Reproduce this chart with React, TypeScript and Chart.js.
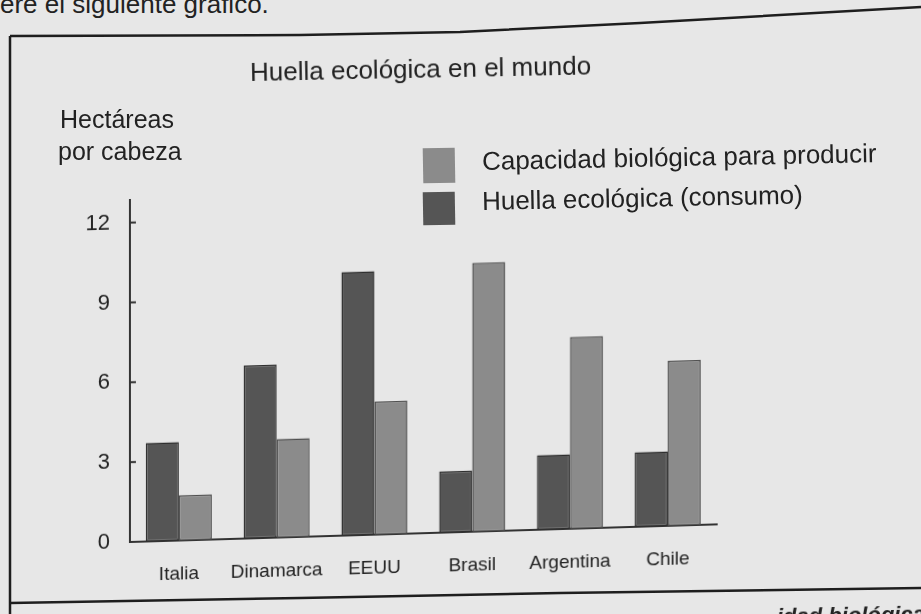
import React, { useEffect, useRef } from "react";
import { Chart, registerables } from "chart.js";

Chart.register(...registerables);

const categories = ["Italia", "Dinamarca", "EEUU", "Brasil", "Argentina", "Chile"];
const huellaEcologica = [3.7, 6.5, 9.9, 2.3, 2.8, 2.8];
const capacidadBiologica = [1.7, 3.7, 5.0, 10.1, 7.2, 6.2];
const yTickValues = [0, 3, 6, 9, 12];
const seriesLabels = ["Huella ecológica (consumo)", "Capacidad biológica para producir"];

const DARK = "#555555";
const LIGHT = "#8b8b8b";
const TEXT = "#222222";
const FONT = "'Liberation Sans', Arial, sans-serif";

const innerTicks = {
  id: "innerTicks",
  afterDraw(chart: any) {
    const y = chart.scales.y;
    const ctx = chart.ctx;
    ctx.save();
    ctx.strokeStyle = "#333";
    ctx.lineWidth = 2;
    y.ticks.forEach((t: any) => {
      const py = y.getPixelForValue(t.value);
      ctx.beginPath();
      ctx.moveTo(y.right, py);
      ctx.lineTo(y.right + 6, py);
      ctx.stroke();
    });
    ctx.restore();
  },
};

export default function App() {
  const ref = useRef<HTMLCanvasElement | null>(null);

  useEffect(() => {
    if (!ref.current) return;
    const chart = new Chart(ref.current, {
      type: "bar",
      data: {
        labels: categories,
        datasets: [
          {
            label: seriesLabels[0],
            data: huellaEcologica,
            backgroundColor: DARK,
            borderColor: "#2e2e2e",
            borderWidth: 1.5,
            borderSkipped: false,
            categoryPercentage: 0.675,
            barPercentage: 1,
          },
          {
            label: seriesLabels[1],
            data: capacidadBiologica,
            backgroundColor: LIGHT,
            borderColor: "#505050",
            borderWidth: 1.5,
            borderSkipped: false,
            categoryPercentage: 0.675,
            barPercentage: 1,
          },
        ],
      },
      options: {
        responsive: false,
        animation: false,
        devicePixelRatio: 1,
        layout: { padding: { top: 200, right: 204, left: 0, bottom: 0 } },
        plugins: {
          legend: { display: false },
          title: { display: false },
          tooltip: { enabled: false },
        },
        scales: {
          x: {
            grid: { display: false, drawTicks: false },
            border: { display: true, color: "#333", width: 2 },
            ticks: {
              color: TEXT,
              padding: 22,
              maxRotation: 0,
              autoSkip: false,
              font: { family: FONT, size: 19 },
            },
            afterFit: (s: any) => {
              s.height = 72;
            },
          },
          y: {
            min: 0,
            max: 12.85,
            grid: { display: false, drawTicks: false },
            border: { display: true, color: "#333", width: 2 },
            ticks: {
              color: TEXT,
              padding: 20,
              stepSize: 3,
              font: { family: FONT, size: 22 },
            },
            afterBuildTicks: (s: any) => {
              s.ticks = yTickValues.map((v) => ({ value: v }));
            },
            afterFit: (s: any) => {
              s.width = 130;
            },
          },
        },
      },
      plugins: [innerTicks],
    });
    return () => chart.destroy();
  }, []);

  const txt = (extra: React.CSSProperties): React.CSSProperties => ({
    position: "absolute",
    fontFamily: FONT,
    color: TEXT,
    whiteSpace: "nowrap",
    lineHeight: "30px",
    transformOrigin: "0 50%",
    ...extra,
  });

  return (
    <div
      style={{
        position: "absolute",
        left: 0,
        top: 0,
        width: 921,
        height: 614,
        overflow: "hidden",
        background: "#e7e7e7",
      }}
    >
      <svg width={921} height={614} style={{ position: "absolute", left: 0, top: 0 }}>
        <polyline
          points="10,36 300,35 460,32 640,23 921,7"
          fill="none"
          stroke="#1e1e1e"
          strokeWidth={2.5}
          strokeLinejoin="round"
        />
        <line x1={10} y1={36} x2={10} y2={614} stroke="#1e1e1e" strokeWidth={2.5} />
        <polyline
          points="10,603 300,598 560,593 921,588"
          fill="none"
          stroke="#1e1e1e"
          strokeWidth={2.5}
          strokeLinejoin="round"
        />
      </svg>

      <div style={txt({ left: 0, top: -11, fontSize: 26 })}>ere el siguiente gráfico.</div>

      <div
        style={{
          position: "absolute",
          left: 0,
          top: 0,
          width: 921,
          height: 614,
          transform: "skewY(-1.72deg)",
          transformOrigin: "130px 0",
        }}
      >
        <canvas ref={ref} width={921} height={614} style={{ width: 921, height: 614, display: "block" }} />
      </div>

      <div style={txt({ left: 250, top: 57, fontSize: 26, transform: "rotate(-1.1deg)" })}>
        Huella ecológica en el mundo
      </div>
      <div style={txt({ left: 60, top: 104, fontSize: 25 })}>Hectáreas</div>
      <div style={txt({ left: 58, top: 136, fontSize: 25 })}>por cabeza</div>

      <div style={{ position: "absolute", left: 423, top: 148, width: 32, height: 35, background: LIGHT, transform: "rotate(-1deg)" }} />
      <div style={{ position: "absolute", left: 423, top: 192, width: 32, height: 33, background: DARK, transform: "rotate(-1deg)" }} />
      <div style={txt({ left: 482, top: 146, fontSize: 26, transform: "rotate(-1.15deg)" })}>
        {seriesLabels[1]}
      </div>
      <div style={txt({ left: 482, top: 186, fontSize: 26, transform: "rotate(-1.15deg)" })}>
        {seriesLabels[0]}
      </div>

      <div
        style={txt({
          left: 777,
          top: 602,
          fontSize: 22,
          fontWeight: "bold",
          fontStyle: "italic",
          transform: "rotate(-1deg)",
        })}
      >
        idad biológica
      </div>
    </div>
  );
}
